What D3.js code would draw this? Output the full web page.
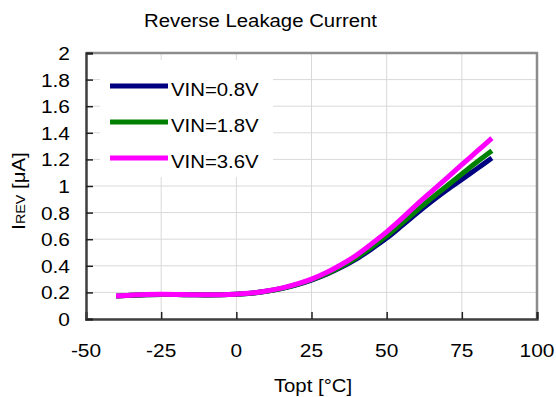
<!DOCTYPE html>
<html><head><meta charset="utf-8">
<script src="https://cdn.jsdelivr.net/npm/d3@7"></script>
<style>body{margin:0;background:#fff}svg{display:block}text{font-family:"Liberation Sans",Arial,sans-serif;fill:#000}</style>
</head><body>
<svg id="c" width="556" height="397"></svg>
<script>
const temps = [-40,-35,-30,-25,-20,-15,-10,-5,0,5,10,15,20,25,30,35,40,45,50,55,60,65,70,75,80,85];
const vin08 = [0.172,0.178,0.183,0.185,0.184,0.182,0.181,0.182,0.186,0.194,0.208,0.228,0.256,0.292,0.336,0.39,0.452,0.527,0.608,0.70,0.795,0.885,0.97,1.05,1.13,1.21];
const vin18 = [0.172,0.178,0.183,0.185,0.184,0.182,0.181,0.182,0.186,0.194,0.208,0.229,0.258,0.295,0.34,0.397,0.462,0.54,0.625,0.72,0.815,0.91,1.0,1.09,1.18,1.265];
const vin36 = [0.173,0.179,0.184,0.186,0.185,0.183,0.182,0.183,0.187,0.195,0.21,0.232,0.262,0.30,0.35,0.41,0.48,0.565,0.655,0.755,0.86,0.96,1.06,1.16,1.26,1.36];
const seriesNames = ["VIN=0.8V","VIN=1.8V","VIN=3.6V"];
const seriesColors = ["#000080","#008000","#ff00ff"];
const xTicks = [-50,-25,0,25,50,75,100];
const yTicks = [0,0.2,0.4,0.6,0.8,1,1.2,1.4,1.6,1.8,2];
const titleText = "Reverse Leakage Current";
const xLabel = "Topt [°C]";

const svg = d3.select("#c");
const L=86, R=537, T=53, B=319;
const x = d3.scaleLinear().domain([-50,100]).range([L,R]);
const y = d3.scaleLinear().domain([0,2]).range([B,T]);
const SX = 1.1;

function stext(g, tx, ty, str, size, anchor){
  return g.append("text").attr("transform",`translate(${tx},${ty}) scale(${SX},1)`)
    .attr("font-size",size).attr("text-anchor",anchor||"start").text(str);
}

// grid
const grid = svg.append("g");
grid.selectAll("line.gx").data(xTicks).join("line")
  .attr("x1",d=>x(d)).attr("x2",d=>x(d)).attr("y1",T).attr("y2",B)
  .attr("stroke","#d9d9d9").attr("stroke-width",1);
grid.selectAll("line.gy").data(yTicks).join("line")
  .attr("x1",L).attr("x2",R).attr("y1",d=>y(d)).attr("y2",d=>y(d))
  .attr("stroke","#d9d9d9").attr("stroke-width",1);

// legend background
svg.append("rect").attr("x",100).attr("y",60).attr("width",173).attr("height",117).attr("fill","#fff");

// frame top/right
svg.append("path").attr("d",`M${L},${T}H${R}V${B}`).attr("fill","none").attr("stroke","#8c8c8c").attr("stroke-width",2.5);

// axes with inner ticks
const xAxis = d3.axisBottom(x).tickValues(xTicks).tickSize(-7).tickFormat("");
const yAxis = d3.axisLeft(y).tickValues(yTicks).tickSize(-7).tickFormat("");
const gx = svg.append("g").attr("transform",`translate(0,${B})`).call(xAxis);
const gy = svg.append("g").attr("transform",`translate(${L},0)`).call(yAxis);
[gx,gy].forEach(g=>{g.selectAll("path.domain").attr("stroke","#404040").attr("stroke-width",2.5);
  g.selectAll(".tick line").attr("stroke","#202020").attr("stroke-width",1.5);});

// tick labels
xTicks.forEach(t=>stext(svg, x(t), 357, String(t), 19, "middle"));
yTicks.forEach(t=>stext(svg, 70, y(t)+7, String(t), 19, "end"));

// lines
const line = d3.line().x((d,i)=>x(temps[i])).y(d=>y(d)).curve(d3.curveMonotoneX);
[vin08,vin18,vin36].forEach((s,i)=>{
  svg.append("path").datum(s).attr("d",line).attr("fill","none")
    .attr("stroke",seriesColors[i]).attr("stroke-width",5).attr("stroke-linecap","butt");
});

// legend
seriesNames.forEach((n,i)=>{
  const ly = 86 + i*36;
  svg.append("line").attr("x1",110).attr("x2",168).attr("y1",ly).attr("y2",ly)
    .attr("stroke",seriesColors[i]).attr("stroke-width",5);
  stext(svg, 171, ly+9.5, n, 18.5, "start");
});

// title & axis labels
stext(svg, 260.5, 27, titleText, 18.5, "middle");
stext(svg, 313, 392, xLabel, 18.5, "middle");
const yl = svg.append("text").attr("transform",`translate(25,191) rotate(-90) scale(${SX},1)`)
  .attr("text-anchor","middle").attr("font-size",18.5);
yl.append("tspan").text("I");
yl.append("tspan").attr("font-size",13).text("REV");
yl.append("tspan").text(" [μA]");
</script>
</body></html>
